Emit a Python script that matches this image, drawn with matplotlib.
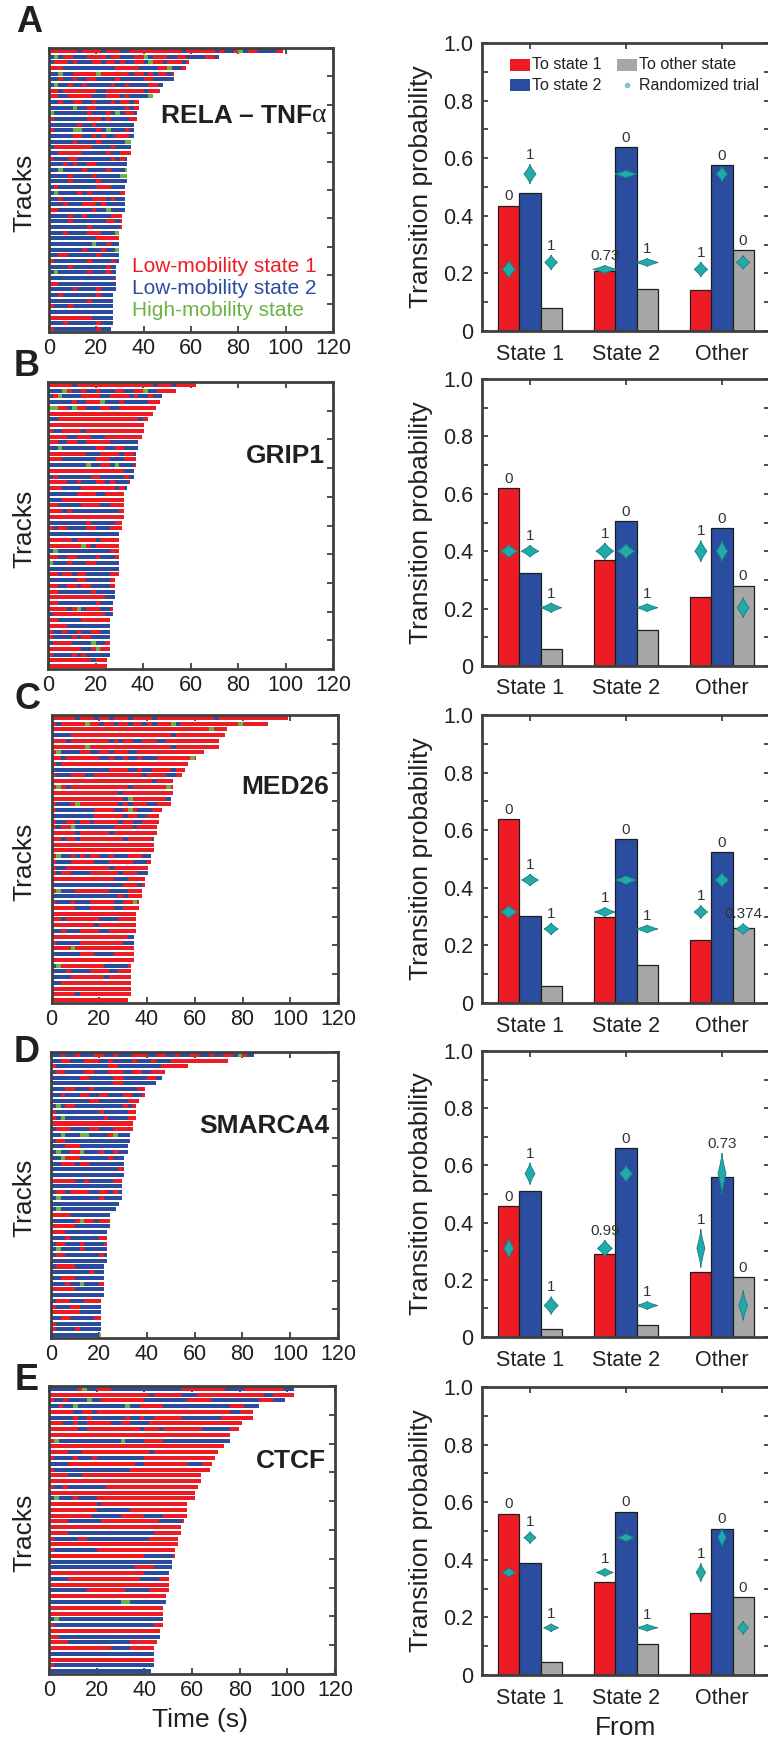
import numpy as np
import matplotlib
matplotlib.use("Agg")
import matplotlib.pyplot as plt
from matplotlib.patches import Rectangle
from matplotlib.lines import Line2D

plt.rcParams['font.family'] = ['Liberation Sans', 'DejaVu Sans']

# ---------------------------------------------------------------- data
panel_letters = ['A', 'B', 'C', 'D', 'E']
panel_names = ['RELA \u2013 TNF', 'GRIP1', 'MED26', 'SMARCA4', 'CTCF']
state_labels = ['Low-mobility state 1', 'Low-mobility state 2', 'High-mobility state']
from_categories = ['State 1', 'State 2', 'Other']
bar_legend = ['To state 1', 'To state 2', 'To other state', 'Randomized trial']

# track durations (s), longest first
len_a = [99, 72, 59, 58, 53, 53, 48, 47, 44, 38, 38, 37, 37, 36, 36, 36, 34.5, 34.5, 34.5,
         33, 33, 33, 33, 33, 32, 32, 32, 32, 32, 31, 31, 31, 29.6, 29.6, 29.6, 29.6, 29.6, 29.6,
         28.5, 28.5, 28.5, 28.5, 28.5, 27, 27, 27, 27, 27, 27, 26]
len_b = [62.4, 54, 48, 47, 45.5, 44.3, 42, 40.5, 40.5, 39.5, 38, 38, 37, 37, 37, 36, 36, 34.6,
         33.3, 32, 32, 32, 32, 32, 31, 31, 29.7, 29.7, 29.7, 29.7, 29.7, 29.7, 29.7, 29.7,
         28.4, 28.4, 28.4, 28.4, 27.3, 27.3, 27.3, 26, 26, 26, 26, 26, 26, 26, 24.7, 24.7]
len_c = [99, 90.7, 73.5, 72.7, 70, 70, 64, 60.7, 57, 55.8, 54.8, 51, 51, 51, 50, 50, 46.3, 45,
         45, 44, 44, 42.8, 42.8, 42.8, 41.7, 41.7, 40.4, 40.4, 39.2, 39.2, 38, 38, 36.8, 36.8,
         35.6, 35.6, 35.6, 35.6, 34.4, 34.4, 34.4, 34.4, 34.4, 33.2, 33.2, 33.2, 33.2, 33.2, 33.2, 32]
len_d = [84.8, 74, 57.3, 47.6, 46.3, 44, 39.2, 39.2, 36.7, 35.6, 35.6, 35.6, 34.4, 34.4, 33.2,
         33.2, 32, 32, 30.7, 30.7, 30.7, 30.7, 29.6, 29.6, 29.6, 29.6, 28.3, 27.2, 24.7, 24.7,
         24.7, 23.4, 23.4, 23.4, 23.4, 23.4, 23.4, 22.3, 22.3, 22.3, 22.3, 22.3, 22.3,
         21, 21, 21, 21, 21, 21, 21]
len_e = [102.8, 102.8, 99, 88, 85.6, 85.6, 81, 79.7, 76, 76, 73.6, 71, 69.8, 68.5, 67.4, 63.8,
         63.8, 62.6, 61.4, 61.4, 57.7, 57.7, 57.7, 56.6, 55.3, 55.3, 54, 54, 52.8, 52.8, 51.7,
         51.7, 50.4, 50.4, 50.4, 50.4, 49, 49, 48, 48, 48, 48, 46.7, 46.7, 45.5, 44.2, 44.2,
         44.2, 44.2, 43]

# state sequences, one character per 2 s: r = state 1, b = state 2, g = high mobility
states_a = """
rrrrrrbrrrrbrrrbbrrrrrrrrrrrbrrrrrrbrbbrgbrrbbbbrr
bgbrrbbbrrrrbrrbbbrrgbrrrbbrrbbbbrrb
brrrbrbbbrrbrrbrbbrrbgrrbrrrbr
rrrbbbbbbbbbbbrrrrrbbbbrrgbbr
bbgbbrrrrrgrrrrrrbrrbrbrrbr
bbrbbrbbrrbbbbrbbbbbrrbbbbb
bgbbrbbrbbbbbrbbrbbbbrrb
rrbrrrrrrrbbrrrrrrrrbrrr
rrbbrrrrrbbbrrrbrbbbbg
bbrbbrrbbrbbbrbrrbr
bbbbbgbbrrbbbbbbrbr
gbbbbbbbrbbbrbgbrrb
rbbbbbbbrrrbrbbbbrr
bbbbbbrbbrbbbbbbbb
rbbbbggbbbrbgbbbrb
bbbbbrrbbrbrbbrrrb
bbbbbrbbbbrbbbbbgg
brrrrrrrrbbbbrbbbb
bbrrrrrbbbbbrbbrrr
rbbbrrbbbbbbbrbrb
bbbrbrbbrrbbbbbbb
bbgbbbbrbbbbrbbbg
bbbbrbbbbrbbbbbgg
bbbbrbbbbbrbbbbbb
brbbbbbbbbrrrbbb
bgbbbbrbrbbbbbbr
bbrbbbbbbrrrbrbb
bbbrbbbrrrbrbbbb
rrbbbbbbbrbbgbbb
bbbbrbbrbbbbbrrr
bbbbrbbbbbbbrrbr
bbbbbbbbrbbbbbbr
bbbrbbbbrrrbbbg
bbbbbbbbbbrrrrr
bbbbbbbbbgbbrbb
bbbbbbbrbbbrbbg
bbrrbbbbbbrbbbb
rbbbbbbbrbbbbrb
bbbbrbbbbbbbrbb
bgbbbbbbrbbbrbb
bbbbbbbbbbbbbbr
rrbbbbbbbbbbbbb
bbbbbrbbbbrbbbb
bbrbbbbbbbrbbb
bbbbbbbbrbbbbb
rbbbrbbbbbbbbb
bbbbbbbbbbbbbb
rrrrrrrrrbbbbb
bbbrbbbbbbrbbb
rbbbbbbbbbrbb
"""
states_b = """
rrrrrbrrrrrrrrrrrrrrrrbrrrbrrrrr
bbbgrbbrbbrbbbrrbbrrgbbrrrr
brgbbbbrrrrbbrrrrbrbbrbb
bbbbbrbbrrrgbbbrbbbbbrrr
ggrrbgrrbbbrrbbrrrrrrrr
rrrrrrrrrrrrrrrrrrrrrrr
bbrrrrrrrrrrrrrrrrrbrr
rrrrrrrrrrrrrrrrrrrrr
rbbrrrrbrrrrrrrrrrrrr
rrrrbbrrrbbbrrrrrrrr
rrbbrrbbrrrrrbbbbbb
bbgbbbbbbbrrbbrrbbb
rrrrrrrrbbbrrrrbrrb
rrrbbbbbbbrrrbbbrrr
bbbbbbbbgbbrrbgbbbr
rrrrrrrrrrrrrrrrbb
brbbbbbbbrrbbbbbrb
rrrrbbrbbbrrbrbbbr
rrrbbbbrrrrrrrbrb
bbbbbbrrrrbbrrrr
bbbrrrrrrrrrrrrr
rrbbbbbrrrrbbrrr
rrrbrbbbbbbbbbbr
rrrrrrrrrrrrrrrr
bbbbbbbbrbbbbbrr
rbrrbbbbrrbbbrrr
bbbbbbbbbbbbbbb
rrrrrbrrrrbrrrr
rrrrrrrgrbrrrrr
bgbbbbbbbbbbbrr
rrbbrrbbbbrbbbr
gbbbrbbbrrbbbbb
bbbbbbbbbbbbbbb
rrbrrbrrbbbbbrr
bbbbbbrrbbbbbrr
rrbbrrbrrbbbbrr
rrbbbbbbbrbbbbb
rrrrrrrrrrrrbbb
rrbbbbbbbbrbbb
rrrrbrgbrrrbbr
brrrrrrrrrrrbb
rrbbbbbrrrrrr
rrrrbbbbbbbbb
rbbrbbrbbrrbb
rbbbbrbrrbbbb
brrrrbbbbgbbr
rrrrrrrbbrgrr
rbbbbrbrbbbbb
rrrrrrrrrbrrr
rrrrrrrrrrrrr
"""
states_c = """
rrrrrbrrrbrrbrrrbrrrrbrrrrrrrrrrrrbrrrrrrrrrrrrrrr
rbrrrrrgrrbrrbrrbrrbrbrrrgbrrrrrrrrrrrrgrrrrrr
rrrrrrrrrrrrrrrrrrrrrrrrrrrrrrrrrgrrr
bbbbrrrrrrrrrrrrrrrrrrrrrbrrrrrrrrrrr
rrrbrrrrrrrrbrbrrbbrrrbbrrrrrrrrrrr
rrrrrrrgrrrrrrrrrrrrrrrrrbrrrrrrrrr
rgbbbbrrbbrrbrrrbbrrrrrrrrrrrrrr
rrbrrrrrrrbbrbbrbbrbbbrrrrrrrgr
rbrrrrrrrrrrrrrrrrrrrrrrrrrrr
bbbbbbbbbbbbrrrrbbrbbrrrrbrr
rbbbrrrbbrrrrrrrrrrbrrrrbbr
rrrrrrrrrrrrrrrrrrrrrbrrrr
rgrbrrrrrrrrrrrrbrrrrrrrgr
rrrrrrrrrrrrrrbrrrrrrrrrrr
rrrrrrrrrrrrrrrbgrrrrrrrb
rbbbrgrrrrrrrrbrbrrrbbrrr
rbbbbbbbbrrrrbbrgrbbbrrrr
bbbbbbbbbrrrrrrbrrbbrrrr
rbbrrbrrbrrrrrbrrbbrrrr
rbrrgbbbbbbbbrrrrbrrrrgg
rrrrrbrrrrrrbrrrrrrrrrr
rrbrrbrrrrrrrrrbrrrrrbr
rrrrrrrrrrrrrrrrrrrrrrr
rrrrrrrrrrrrrrrrrrrrrrr
rgbbrbrbrrbbrbbbrrrbbbrrr
rbbbrrrrrbbbrrrrrbbbrrrr
rbbrrrrrrrrrbrrrrrrrrr
rbrrbbbbrrrrrrbrrrbbbr
rrrrrrrrrrrrrbbbrrrrb
bbbbbbbbbbbbbbbrrrbrb
rgbbbrrrrrrrbbbbrrr
bbbbbbbbbbbbbbrbrrr
rbbbrbbbrrrrrbbrrgr
rrrrrbbbrrrrrbbrrr
rrrrrrrrrrrrrrrrrr
rrbrrrrrrrbbbbrrr
rrrrrrrrrbrrrrrrr
bbrbbbrrrrbbrrrrr
rrrrrrrrrrrrrrrrb
rbbbbbrrrrrrrrrbb
rrrrgrrrrrrrrrrrr
bbbbbbrrrbbbbrrrr
rrrrrrrrrrrrrrrrr
bgrrrrrrrrrbbbbbr
bbbrbbbbrrrrbbrrr
bbbbrrrrrrrbrrrrr
bbrrrrrrrrrrrrrrr
rrrrrrrrrrrrrrrrr
rrrrrbrrrrrrrrrrr
rrrrrrrrrrrrrrrr
"""
states_d = """
bbrbbrbbbrrbbrbbbrrrbbrrbbrbbrrbbrbbrrbgrbb
bbrrbbbrrrbbrbbbbrbbbrbbbrrrrrrrrrrrr
rbbbbbbbbbbbrrbbbbbbbbbrrrrrr
brrbbbbrrbbbrrrbbrrbbrrr
bbbbbbrrbbbbbrrbbbbbrrbb
bbbbbbbbbbbbbrrbbbbbbbbb
bbbrrbbbrbbbbbbbbbrr
bbrbbbrrbbrrbbbrrbbr
bbbbbbbbrrbbbbbbrrr
bgbrrbbbbbbbbbbrbr
rbbbbbbbbbrbbbbbrr
rbgbbbbbbbbrbbbbrr
rrrrrrrrrrrrrrrrrr
brrrbbbbrrbbbrrrrr
bbgbbbggbbbbrgbbb
brrbbbbbbbbbbbbbb
bbbrrrbbbbbbbbbbb
bgbbrrgbbbrbbrbb
bbgrrrbbbbbbrbbb
bbrrrbrrbbbbbbbb
bbbbbbbbbbbbbbrb
bbbbbbbbbbbbbbbb
rrrrrbbrbbbbbrr
bbbbbbbbbbbbbbb
brrbrrrrbbrrbrb
bgbbbbbbbbrbbb
bbbbbbbbbbbbbb
bgbbbbbbbbbbbb
rrrrbbbbbbbbb
bbbbbrgrrbrrr
rrrrrbbbbbbbb
rrrbbbbbbbbb
bbbrbbbbbbrr
brrbbbrbbbbr
bgbbbbrbbbbb
brrbbbbbbbrb
bbbbbbbbbbbb
brrrrbbbbbbb
bbbbbbbbrbbb
bbrrrbbbbbbb
bbbrbbgbbbrr
rrrrrbbbbbbb
bbbbbbbbbbbb
brrrbbbrrrr
rbbbrrbbbbb
rrrrrrbbbbb
bbrrbbbbbrr
rbbbbbbbbbb
rbbbbrbbbbb
bbbbbbbbbbg
"""
states_e = """
bbbbbbrgbbrrrbbbbbbbbbbbbbbbrrrrrrrrrbbbbrrrrrrrrbbb
rrrrrrrrrrrrrrrrrrrrrbrrrrrrbbbrrrrrrrrrrrrrrbbrrrrr
rbbrbbbbgbbrrrrrrrrrbbbbbbbbbrrrrrbbbbbbbbbbrrrb
bbrbbgbbbbbbbbbbgbbrrrrrbbbbbbbbbbbbbbrrrbb
rrrrrbbrrbrrrrrrrrrrrrrrrrrrrrrrrrrrrrbbrr
bbbbbrbbrbbbbbbbrbbrbbrrrrrrbbbbbbbbrrrrrr
rrrbbrbbrrrrrbbrrbbbbrrrrrrrrrrrrrrrrrrr
rrrrrrbbrrrrrrrrrrrbrrrbrrrrrrrrbbbbbbrr
rrrrrrrrrrrrrrrrrrrrrrrrrrrrrrrrrrrrrr
rgbbbbbbbbbbbbbgbbbbrrrrbbbbbbbbbbbbbb
rrrrrrrrrrrrrrrrrrrrrrrrrrrrrrrrrrrr
rrrrbbbrrrrrrrrrrrrrrbrrrrrrrrrrrrr
rbbbbrbbbrbbbbbbbbbbrrrrrrrrrrrrrrr
bbbbrrrrrrrrrrrrrrbbrrrrrrrrrbbbrrr
rbbbbbbbbbbbbbbbbrrrrrrrrrrrrrrrrr
rrrrbbbrrrrrrrrrrrrrrrrrrrrrrrrr
rrrrrrrrrrrrrrrrrrrrrrrrrrrrrrrr
rbbrbbbbbbbbrrrrrrrrrrrrrrrrrrrr
rrrrrrrrrrrrrrrrrrrrrrrrrrrrrrr
bgbbbrbbbbrrrrrrrrrrrrrrrrrrrrr
rrrrrrrrrrbrrrrrrrrrrrrrrrrrr
rrrrrrrrrrbbbbbbbrrrrrrrrrrrr
rrrrrrrrrbbbbbbrrrrrbbbbrrrrr
rrrrbbbbbbbrrrrrrrrrrrrbbbbbr
rrrrrrrrrrrrrrrrrrrrrrrrrrrr
rrrrbbbbbbbbbbbbbbbbbbrrrrrr
rbbbbbrrbbbbbbbbbbbbbrrrrrr
rrrrrrrrrrrrrrrrrrrrrrrrrrr
rbbbbbbbbbrrrrrrrrrrrrrrrrr
rrrrrrrrrrrrrrrrrrrrbbbbbbr
bbbbbbbbbbbbbbbbbbbbbbbbbb
bbbbbbbbbbbbbbbbbbrrrrbbbb
rrrrrrrrrrrrrrrrrrrrbbbbbb
bbbbrrrrrrrrrrrrrrrbbbbrrr
rrrrrrrrrrrrrrrrrrrrrrrrrr
bbbbbbbbrrrrrrrrbbbbbrrrrr
rrrrrrrrrrrrrrrrrrrrrrrrr
bbbbbbbbbbbbbbbggbbbbbbbb
rrrrrrrrrrrrrrrrrrrrrrrr
rrrrrrrrrrrrrrrrrrrrrrrr
bgbbbbbbbbbbbbbbbbbbbbbb
rbbbbbbbbbbbbbbbbbbbbbrr
rrrrrrrrrrrrrrrrrrrrrrrr
rrbbbbbbbbbbbbbbbbbbbbbb
rrrrbbbbbbbbbbbbbrrrrrr
rrrrrrrrrrrrrbbbbrrrrrr
bbbbbbbbbbbbbbbbbbbbbbb
rrrrrrrrrrrrrrrrrrrrrrr
rbbbbbbbbbbbbbbbbbbbbbg
bbbbbbbbbbbbbbbbbbbbbb
"""

# transition probabilities, one value per origin (State 1, State 2, Other)
to_state1_a = [0.435, 0.210, 0.142]
to_state2_a = [0.480, 0.638, 0.575]
to_other_a = [0.081, 0.147, 0.280]
to_state1_b = [0.620, 0.369, 0.240]
to_state2_b = [0.323, 0.505, 0.480]
to_other_b = [0.059, 0.127, 0.280]
to_state1_c = [0.639, 0.298, 0.218]
to_state2_c = [0.301, 0.569, 0.523]
to_other_c = [0.059, 0.132, 0.259]
to_state1_d = [0.458, 0.290, 0.226]
to_state2_d = [0.509, 0.660, 0.559]
to_other_d = [0.028, 0.043, 0.209]
to_state1_e = [0.560, 0.322, 0.215]
to_state2_e = [0.390, 0.567, 0.508]
to_other_e = [0.046, 0.106, 0.270]

# randomized-trial centre (to state 1, to state 2, to other)
random_a = [0.214, 0.545, 0.238]
random_b = [0.400, 0.400, 0.203]
random_c = [0.316, 0.427, 0.257]
random_d = [0.310, 0.571, 0.110]
random_e = [0.356, 0.477, 0.164]

# randomized-trial spread (half height) and violin half width, [origin][destination]
spread_a = [[0.031, 0.034, 0.026], [0.014, 0.014, 0.014], [0.026, 0.027, 0.024]]
spread_b = [[0.023, 0.021, 0.017], [0.029, 0.026, 0.014], [0.037, 0.037, 0.035]]
spread_c = [[0.023, 0.021, 0.021], [0.016, 0.016, 0.014], [0.023, 0.026, 0.019]]
spread_d = [[0.035, 0.038, 0.031], [0.029, 0.029, 0.014], [0.067, 0.072, 0.052]]
spread_e = [[0.017, 0.021, 0.014], [0.014, 0.014, 0.012], [0.032, 0.032, 0.023]]
vwidth_a = [[0.070, 0.063, 0.066], [0.125, 0.115, 0.115], [0.070, 0.059, 0.070]]
vwidth_b = [[0.090, 0.090, 0.108], [0.090, 0.090, 0.110], [0.063, 0.059, 0.063]]
vwidth_c = [[0.087, 0.087, 0.073], [0.105, 0.110, 0.110], [0.070, 0.070, 0.073]]
vwidth_d = [[0.052, 0.052, 0.073], [0.077, 0.070, 0.110], [0.042, 0.042, 0.045]]
vwidth_e = [[0.070, 0.063, 0.077], [0.087, 0.087, 0.110], [0.049, 0.045, 0.056]]

# p-values printed above the bars, [origin][destination]
pval_a = [['0', '1', '1'], ['0.73', '0', '1'], ['1', '0', '0']]
pval_b = [['0', '1', '1'], ['1', '0', '1'], ['1', '0', '0']]
pval_c = [['0', '1', '1'], ['1', '0', '1'], ['1', '0', '0.374']]
pval_d = [['0', '1', '1'], ['0.99', '0', '1'], ['1', '0.73', '0']]
pval_e = [['0', '1', '1'], ['1', '0', '1'], ['1', '0', '0']]

# ---------------------------------------------------------------- style
W, H = 768, 1748
RED, BLUE, GREEN = '#ED1C24', '#2B4C9E', '#6AB344'
BAR_BLUE, GRAY = '#2A4D9F', '#A8A6A6'
TEAL, TEAL_EDGE = '#22A9A9', '#15807F'
SPINE = '#404040'
TXT = '#231F20'
STATE_COLORS = {'r': RED, 'b': BLUE, 'g': GREEN}
BIN = 2.0

LEFT_BOX = [(49, 333, 48, 332), (48, 333, 382, 669), (51.5, 338, 715, 1003),
            (51, 338, 1052, 1338), (49, 335, 1386, 1674)]
RIGHT_BOX = [(482, 770, 43, 331), (482, 770, 379, 666), (482, 770, 715, 1003),
             (482, 770, 1051, 1337), (482, 770, 1387, 1675)]
LETTER_POS = [(29, 22), (27, 366), (28, 700), (27, 1052), (27, 1381)]
NAME_Y = [0.736, 0.718, 0.726, 0.717, 0.715]

fig = plt.figure(figsize=(W / 100, H / 100), dpi=100)


def add_px_axes(box):
    x0, x1, y0, y1 = box
    return fig.add_axes([x0 / W, 1 - y1 / H, (x1 - x0) / W, (y1 - y0) / H])


def style_spines(ax):
    for sp in ax.spines.values():
        sp.set_color(SPINE)
        sp.set_linewidth(2.0)


def draw_tracks(ax, lengths, states_text):
    seqs = [s.strip() for s in states_text.strip().splitlines()]
    for i, (L, s) in enumerate(zip(lengths, seqs)):
        nb = int(np.ceil(L / BIN))
        if len(s) < nb:
            s = s + s[-1] * (nb - len(s))
        s = s[:nb]
        segs = {'r': [], 'b': [], 'g': []}
        j = 0
        while j < nb:
            k = j
            while k < nb and s[k] == s[j]:
                k += 1
            t0, t1 = j * BIN, min(k * BIN, L)
            segs[s[j]].append((t0, t1 - t0))
            j = k
        for c, lst in segs.items():
            if lst:
                ax.broken_barh(lst, (i + 0.15, 0.7), facecolors=STATE_COLORS[c],
                               edgecolor='none', linewidth=0, zorder=2)
    ax.set_xlim(0, 120)
    ax.set_ylim(len(lengths), 0)
    ax.set_xticks(np.arange(0, 121, 20))
    ax.set_yticks(np.arange(0, len(lengths) + 1, 5))
    ax.tick_params(axis='x', direction='in', top=True, bottom=True, length=4, width=1.3,
                   color=SPINE, labelsize=15.5, labelcolor=TXT, pad=4.5)
    ax.tick_params(axis='y', direction='in', left=False, right=True, length=4, width=1.3,
                   color=SPINE, labelleft=False)
    style_spines(ax)


def violin(ax, xc, yc, hw, hh):
    t = np.linspace(-1, 1, 121)
    w = hw * (1 - np.abs(t)) ** 1.3
    xs = np.concatenate([xc + w, (xc - w)[::-1]])
    ys = np.concatenate([yc + t * hh, (yc + t * hh)[::-1]])
    ax.fill(xs, ys, facecolor=TEAL, edgecolor=TEAL_EDGE, linewidth=0.6, zorder=4)


def draw_bars(ax, to1, to2, tooth, rand, spread, vwidth, pvals):
    x = np.arange(1, len(from_categories) + 1)
    offs = [-0.22, 0.0, 0.22]
    series = [to1, to2, tooth]
    colors = [RED, BAR_BLUE, GRAY]
    for k in range(3):
        ax.bar(x + offs[k], series[k], width=0.22, color=colors[k], edgecolor='#1E1E1E',
               linewidth=0.9, zorder=2)
    for g in range(3):
        for k in range(3):
            xc = x[g] + offs[k]
            violin(ax, xc, rand[k], vwidth[g][k], spread[g][k])
            top = max(series[k][g], rand[k] + spread[g][k])
            ax.text(xc, top + 0.008, pvals[g][k], ha='center', va='bottom',
                    fontsize=11, color='#333333', zorder=5, clip_on=False)
    ax.set_xlim(0.5, 3.5)
    ax.set_ylim(0, 1)
    ax.set_xticks(x)
    ax.set_xticklabels(from_categories)
    ax.set_yticks(np.arange(0, 1.01, 0.2))
    ax.set_yticklabels(['0', '0.2', '0.4', '0.6', '0.8', '1.0'])
    ax.set_yticks(np.arange(0.1, 1.0, 0.2), minor=True)
    ax.tick_params(axis='x', direction='in', top=True, bottom=True, length=4, width=1.3,
                   color=SPINE, labelsize=15.5, labelcolor=TXT, pad=9)
    ax.tick_params(axis='y', which='both', direction='in', left=True, right=True, length=4,
                   width=1.3, color=SPINE, labelsize=15.5, labelcolor=TXT, pad=6.5)
    ax.set_ylabel('Transition probability', fontsize=19, color=TXT, va='center')
    ax.yaxis.set_label_coords(-0.212, 0.5)
    style_spines(ax)


lengths_all = [len_a, len_b, len_c, len_d, len_e]
states_all = [states_a, states_b, states_c, states_d, states_e]
bars_all = [
    (to_state1_a, to_state2_a, to_other_a, random_a, spread_a, vwidth_a, pval_a),
    (to_state1_b, to_state2_b, to_other_b, random_b, spread_b, vwidth_b, pval_b),
    (to_state1_c, to_state2_c, to_other_c, random_c, spread_c, vwidth_c, pval_c),
    (to_state1_d, to_state2_d, to_other_d, random_d, spread_d, vwidth_d, pval_d),
    (to_state1_e, to_state2_e, to_other_e, random_e, spread_e, vwidth_e, pval_e),
]

for p in range(5):
    axl = add_px_axes(LEFT_BOX[p])
    draw_tracks(axl, lengths_all[p], states_all[p])
    axl.set_ylabel('Tracks', fontsize=19, color=TXT, va='center')
    axl.yaxis.set_label_coords((24 - LEFT_BOX[p][0]) / (LEFT_BOX[p][1] - LEFT_BOX[p][0]), 0.49)
    t = axl.text(0.97 if p else 0.925, NAME_Y[p], panel_names[p], transform=axl.transAxes,
                 ha='right', va='baseline', fontsize=19, fontweight='bold', color=TXT, zorder=6)
    if p == 0:
        axl.annotate('\u03b1', xy=(1.0, 0.0), xycoords=t, ha='left', va='bottom',
                     fontsize=20, family=['Liberation Serif', 'DejaVu Serif'], color=TXT)
        for name, col, yb in zip(state_labels, [RED, BLUE, GREEN], [0.211, 0.134, 0.056]):
            axl.text(0.294, yb, name, transform=axl.transAxes, ha='left', va='baseline',
                     fontsize=15, color=col, zorder=6)
    if p == 4:
        axl.set_xlabel('Time (s)', fontsize=19, color=TXT, va='center')
        axl.xaxis.set_label_coords(0.528, -0.16)

    axr = add_px_axes(RIGHT_BOX[p])
    draw_bars(axr, *bars_all[p])
    if p == 4:
        axr.set_xlabel('From', fontsize=19, color=TXT, va='center')
        axr.xaxis.set_label_coords(0.5, -0.184)
    if p == 0:
        # legend
        items = [(0.097, 0.924, RED), (0.097, 0.854, BAR_BLUE), (0.469, 0.924, GRAY)]
        for (lx, ly, col), lab in zip(items, bar_legend[:3]):
            axr.add_patch(Rectangle((lx, ly - 0.021), 0.069, 0.042, transform=axr.transAxes,
                                    facecolor=col, edgecolor='none', zorder=6))
            axr.text(lx + 0.077, ly, lab, transform=axr.transAxes, ha='left', va='center',
                     fontsize=11.5, color=TXT, zorder=6)
        axr.add_line(Line2D([0.503], [0.854], transform=axr.transAxes, marker='o',
                            markersize=3, color='#7CC5CA', linestyle='none', zorder=6))
        axr.text(0.545, 0.854, bar_legend[3], transform=axr.transAxes, ha='left',
                 va='center', fontsize=11.5, color=TXT, zorder=6)

for letter, (lx, ly) in zip(panel_letters, LETTER_POS):
    fig.text(lx / W, 1 - ly / H, letter, ha='center', va='center', fontsize=26,
             fontweight='bold', color=TXT)

fig.savefig('out.png', dpi=100)
